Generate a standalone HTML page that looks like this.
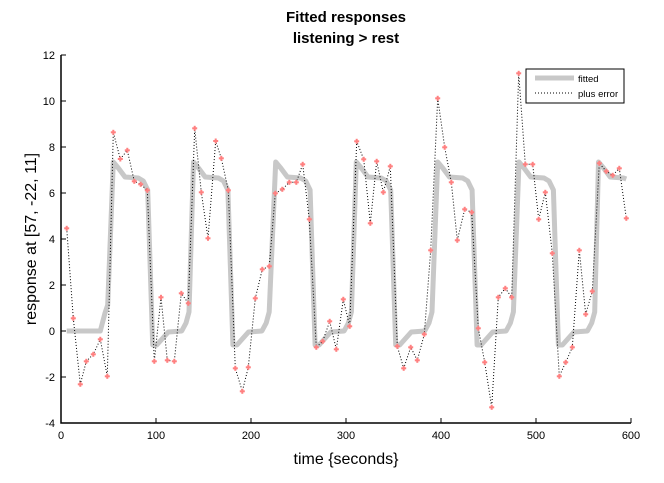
<!DOCTYPE html>
<html><head><style>
body{margin:0;background:#fff;}
svg text{font-family:"Liberation Sans",sans-serif;}
</style></head><body>
<svg id="s" width="664" height="478" xmlns="http://www.w3.org/2000/svg">
<rect width="664" height="478" fill="#fff"/>
<text x="346" y="22" text-anchor="middle" font-size="15" font-weight="bold">Fitted responses</text>
<text x="346" y="43" text-anchor="middle" font-size="15" font-weight="bold">listening &gt; rest</text>
<g id="ax"></g>
<path id="fit" fill="none" stroke="#c8c8c8" stroke-width="5" stroke-linejoin="round"/>
<path id="err" fill="none" stroke="#000" stroke-width="1" stroke-dasharray="1,2"/>
<g id="mk" fill="#ff8080"></g>
<path d="M61,55V423H631" fill="none" stroke="#000" stroke-width="1.5"/>
<rect x="526" y="69" width="98" height="34" fill="#fff" stroke="#000" stroke-width="1"/>
<line x1="535" y1="78" x2="574" y2="78" stroke="#c8c8c8" stroke-width="5"/>
<line x1="535" y1="93" x2="574" y2="93" stroke="#000" stroke-dasharray="1,2"/>
<text x="578" y="82" font-size="9.5">fitted</text>
<text x="578" y="97" font-size="9.5">plus error</text>
<text x="346" y="464" text-anchor="middle" font-size="16">time {seconds}</text>
<text transform="translate(36,239) rotate(-90)" text-anchor="middle" font-size="16">response at [57, -22, 11]</text>
</svg>
<script>
var ax=document.getElementById("ax"),h="";
for(var i=0;i<=6;i++){var x=61+95*i;h+='<line x1="'+x+'" y1="423" x2="'+x+'" y2="418" stroke="#000"/><text x="'+x+'" y="439" text-anchor="middle" font-size="11">'+(i*100)+'</text>';}
for(var v=-4;v<=12;v+=2){var y=331-23*v;h+='<line x1="61" y1="'+y+'" x2="66" y2="'+y+'" stroke="#000"/><text x="55" y="'+(y+4)+'" text-anchor="end" font-size="11">'+v+'</text>';}
ax.innerHTML=h;
var pts=[[66.7,228.3],[73.3,318.3],[80.3,384.3],[86.3,361.3],[93.3,354.3],[100.3,339.3],[107.3,376.3],[113.3,132.3],[120.3,159],[127.3,150.3],[134.3,181.3],[140.7,184.3],[147.3,190.3],[154.3,361.3],[161,297.3],[167.3,360.3],[174.3,361.3],[181.3,293.3],[188.3,303.3],[194.7,128.3],[201.3,192.3],[208,238.3],[215.7,141],[221.3,158.3],[228.3,190.3],[235.3,368.3],[242.3,391.3],[248.3,367.3],[255.3,298.3],[262.3,269.3],[269.3,266.3],[275.3,193.3],[282.3,189.3],[289.3,182.3],[296.3,182.3],[302.7,164.3],[309.3,219.3],[316.3,347.3],[322.7,341.3],[329.7,321.3],[336.3,349.3],[343.3,299.3],[349.7,326.3],[356.7,141.3],[363.7,159.3],[370.3,223.3],[376.7,161.3],[383.3,192.3],[390.3,166.3],[397.3,346.3],[403.7,368.3],[410.7,347.3],[417.3,360.3],[424.3,334.3],[430.7,250.3],[437.7,98.3],[444.7,147.3],[451.3,182.3],[457.3,240.3],[464.7,209.3],[471.7,212.3],[478.3,328.3],[484.7,362.3],[491.7,407.3],[498.3,297.3],[505.3,288.3],[511.7,297.3],[518.7,73.3],[525.3,164.3],[532.7,164.3],[538.7,219.3],[545.3,192.3],[552.3,253.3],[559.3,376.3],[565.7,362.3],[572.3,347.3],[579.3,250.3],[585.7,314.3],[592.3,291.3],[599.3,163.3],[606.3,171.3],[612.7,175.3],[619.3,168.3],[626.3,218.3]];
var d="",m="";
pts.forEach(function(p,i){d+=(i?"L":"M")+p[0]+","+p[1];m+='<rect x="'+(p[0]-2.5)+'" y="'+(p[1]-1)+'" width="5" height="2"/><rect x="'+(p[0]-1)+'" y="'+(p[1]-2.5)+'" width="2" height="5"/>';});
document.getElementById("err").setAttribute("d",d);
document.getElementById("mk").innerHTML=m;
var sh=[[-13,331],[-8.3,313],[-5.6,305],[0,162],[5,168],[11.7,177],[25,178],[30,181],[34.4,190],[39.4,345],[43.4,345],[55,332],[68.4,331],[72.7,323],[75.7,312]];
var peaks=[113.3,193.5,275.7,356.3,437.7,519,598.5];
var f="M66.7,331";
peaks.forEach(function(P,k){sh.forEach(function(s,j){if(k>0&&j<3)return;var x=P+s[0];if(x>626.5)return;f+="L"+x.toFixed(1)+","+s[1];});});
f+="L626.3,179";
document.getElementById("fit").setAttribute("d",f);
</script>
</body></html>
